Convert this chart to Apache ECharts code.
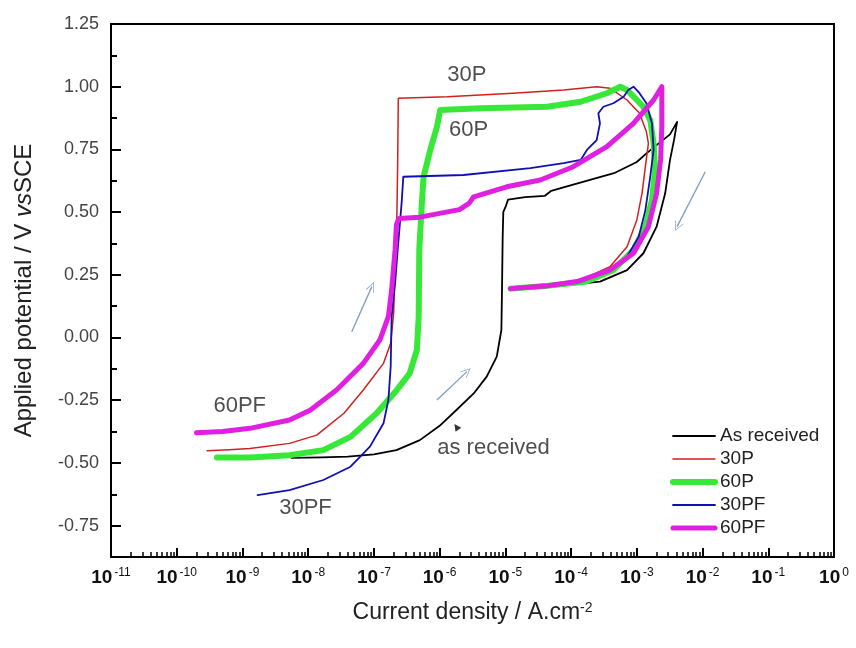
<!DOCTYPE html>
<html>
<head>
<meta charset="utf-8">
<script src="https://cdn.jsdelivr.net/npm/echarts@6/dist/echarts.min.js"></script>
<style>
  html, body { margin: 0; padding: 0; background: #ffffff; }
  #chart { width: 856px; height: 648px; }
</style>
</head>
<body>
<div id="chart"></div>
<script>
// Polarisation curves: [current density (A/cm2), applied potential (V vs SCE)]
const asReceived = [
  [5.6e-9, -0.480], [1.6e-8, -0.478], [4.0e-8, -0.475], [1.0e-7, -0.466], [2.2e-7, -0.449],
  [5.0e-7, -0.409], [1.0e-6, -0.352], [1.8e-6, -0.289], [3.3e-6, -0.223], [5.2e-6, -0.156],
  [7.4e-6, -0.076], [8.7e-6, 0.030], [8.9e-6, 0.200], [9.1e-6, 0.400], [9.3e-6, 0.500],
  [1.02e-5, 0.525], [1.1e-5, 0.550], [2.0e-5, 0.560], [4.0e-5, 0.565], [5.0e-5, 0.585],
  [7.9e-5, 0.600], [2.0e-4, 0.630], [4.5e-4, 0.655], [1.0e-3, 0.700], [1.4e-3, 0.734],
  [2.3e-3, 0.780], [3.2e-3, 0.810], [4.1e-3, 0.860],
  [3.7e-3, 0.790], [3.2e-3, 0.708], [2.7e-3, 0.575], [2.0e-3, 0.442], [1.26e-3, 0.336],
  [7.1e-4, 0.269], [2.75e-4, 0.223], [6.3e-5, 0.205], [2.5e-5, 0.200], [1.2e-5, 0.195]
];
const p30 = [
  [2.9e-10, -0.451], [6.3e-10, -0.447], [1.3e-9, -0.442], [5.2e-9, -0.422], [1.35e-8, -0.389],
  [3.5e-8, -0.302], [6.9e-8, -0.209], [1.4e-7, -0.103], [1.8e-7, -0.023], [2.0e-7, 0.100],
  [2.1e-7, 0.300], [2.24e-7, 0.500], [2.3e-7, 0.700], [2.35e-7, 0.954], [1.3e-6, 0.960],
  [1.3e-5, 0.974], [7.7e-5, 0.987], [2.45e-4, 1.000], [3.9e-4, 0.994], [7.1e-4, 0.947],
  [1.1e-3, 0.894], [1.4e-3, 0.820], [1.5e-3, 0.774],
  [1.35e-3, 0.681], [1.2e-3, 0.575], [1.0e-3, 0.469], [7.1e-4, 0.362], [3.9e-4, 0.282],
  [1.4e-4, 0.229], [4.0e-5, 0.210], [1.2e-5, 0.198]
];
const p60 = [
  [4.1e-10, -0.478], [1.3e-9, -0.478], [5.2e-9, -0.469], [1.7e-8, -0.449], [4.4e-8, -0.396],
  [1.1e-7, -0.302], [2.24e-7, -0.209], [3.5e-7, -0.143], [4.5e-7, -0.050], [4.8e-7, 0.083],
  [4.9e-7, 0.349], [5.4e-7, 0.548], [5.7e-7, 0.641], [7.2e-7, 0.748], [9.1e-7, 0.840],
  [1.02e-6, 0.907], [4.2e-6, 0.914], [4.3e-5, 0.920], [1.4e-4, 0.940], [3.5e-4, 0.974],
  [5.6e-4, 1.000], [7.1e-4, 0.987], [1.26e-3, 0.920], [1.6e-3, 0.867], [1.8e-3, 0.774],
  [1.9e-3, 0.668], [1.7e-3, 0.548], [1.35e-3, 0.442], [8.9e-4, 0.349], [4.4e-4, 0.269],
  [1.7e-4, 0.223], [4.0e-5, 0.205], [1.2e-5, 0.195]
];
const pf30 = [
  [1.7e-9, -0.628], [5.2e-9, -0.608], [1.7e-8, -0.568], [4.4e-8, -0.515], [8.7e-8, -0.435],
  [1.4e-7, -0.342], [1.66e-7, -0.249], [1.8e-7, -0.116], [1.86e-7, 0.083], [2.1e-7, 0.216],
  [2.3e-7, 0.349], [2.66e-7, 0.548], [2.8e-7, 0.641], [2.3e-6, 0.648], [2.4e-5, 0.675],
  [7.7e-5, 0.695], [1.4e-4, 0.708], [1.74e-4, 0.748], [2.45e-4, 0.787], [2.75e-4, 0.854],
  [2.6e-4, 0.894], [3.1e-4, 0.920], [4.4e-4, 0.934], [6.3e-4, 0.960], [7.4e-4, 0.987],
  [8.9e-4, 1.000], [1.1e-3, 0.974], [1.4e-3, 0.934], [1.7e-3, 0.854], [1.8e-3, 0.748],
  [1.6e-3, 0.641], [1.35e-3, 0.508], [1.07e-3, 0.402], [7.1e-4, 0.322], [3.5e-4, 0.262],
  [1.4e-4, 0.223], [4.0e-5, 0.205], [1.2e-5, 0.197]
];
const pf60 = [
  [2.0e-10, -0.380], [5.0e-10, -0.375], [1.3e-9, -0.362], [5.2e-9, -0.329], [1.07e-8, -0.290],
  [2.7e-8, -0.209], [6.9e-8, -0.103], [1.23e-7, -0.010], [1.66e-7, 0.083], [1.86e-7, 0.190],
  [2.1e-7, 0.350], [2.2e-7, 0.450], [2.4e-7, 0.475], [5.0e-7, 0.480], [1.0e-6, 0.495],
  [2.0e-6, 0.510], [2.8e-6, 0.535], [3.3e-6, 0.561], [1.05e-5, 0.601], [3.4e-5, 0.628],
  [1.08e-4, 0.681], [3.5e-4, 0.761], [8.9e-4, 0.854], [1.8e-3, 0.947], [2.4e-3, 1.000],
  [2.4e-3, 0.840], [2.3e-3, 0.708], [2.0e-3, 0.575], [1.5e-3, 0.442], [8.9e-4, 0.336],
  [3.9e-4, 0.269], [1.23e-4, 0.223], [4.0e-5, 0.205], [1.2e-5, 0.195]
];

// Axis ticks
const decadeTicks = [1e-11, 1e-10, 1e-9, 1e-8, 1e-7, 1e-6, 1e-5, 1e-4, 1e-3, 1e-2, 1e-1, 1e0];
const potentialTicks = [-0.75, -0.50, -0.25, 0.00, 0.25, 0.50, 0.75, 1.00, 1.25];
const potentialMinorTicks = [-0.875, -0.625, -0.375, -0.125, 0.125, 0.375, 0.625, 0.875, 1.125];

// In-plot annotations
const curveLabels = [
  { name: '30P', value: [2.6e-6, 1.047] },
  { name: '60P', value: [2.75e-6, 0.827] },
  { name: '60PF', value: [9.1e-10, -0.273] },
  { name: '30PF', value: [9.1e-9, -0.680] },
  { name: 'as received', value: [6.6e-6, -0.442] }
];
// Scan-direction arrows: [tail, head]
const scanArrows = [
  [[4.6e-8, 0.023], [9.3e-8, 0.203]],
  [[9.1e-7, -0.249], [2.6e-6, -0.136]],
  [[1.1e-2, 0.661], [4.1e-3, 0.442]]
];
const pointerMark = [[1.8e-6, -0.356]];

const minorX = [];
decadeTicks.slice(0, -1).forEach(function (d) {
  for (let k = 2; k <= 9; k++) minorX.push(d * k);
});

const FONT = '"Liberation Sans", Arial, sans-serif';
const chevron = 'path://M0,12 L6,0 L12,12 L11,12 L6,2 L1,12 Z';

const curveStyles = {
  'As received': { color: '#000000', width: 1.8 },
  '30P': { color: '#d02020', width: 1.5 },
  '60P': { color: '#38e838', width: 6 },
  '30PF': { color: '#1010b0', width: 1.8 },
  '60PF': { color: '#e020e0', width: 5 }
};

const chart = echarts.init(document.getElementById('chart'), null, { renderer: 'canvas' });

function curve(name, data) {
  const st = curveStyles[name];
  return {
    name: name, type: 'line', data: data, xAxisIndex: 0, yAxisIndex: 0,
    symbol: 'none', showSymbol: false, smooth: false, animation: false,
    lineStyle: { color: st.color, width: st.width, join: 'round', cap: 'round' },
    itemStyle: { color: st.color }
  };
}

chart.setOption({
  backgroundColor: '#ffffff',
  animation: false,
  grid: {
    left: 111, right: 22, top: 24, bottom: 91,
    show: true, borderColor: '#000', borderWidth: 2, backgroundColor: 'transparent'
  },
  legend: {
    data: Object.keys(curveStyles).map(function (n) {
      return { name: n, lineStyle: { width: curveStyles[n].width, color: curveStyles[n].color } };
    }),
    orient: 'vertical', left: 670, top: 426, padding: 0,
    itemWidth: 42, itemHeight: 14, itemGap: 3,
    itemStyle: { opacity: 0 },
    textStyle: { fontFamily: FONT, fontSize: 19, color: '#222', lineHeight: 20 },
    selectedMode: false
  },
  xAxis: [
    {
      type: 'log', logBase: 10, min: 1e-11, max: 1, position: 'bottom',
      name: 'Current density / A.cm{s|-2}', nameLocation: 'middle', nameGap: 44,
      nameTextStyle: {
        fontFamily: FONT, fontSize: 23, color: '#222',
        rich: { s: { fontFamily: FONT, fontSize: 14, color: '#222', verticalAlign: 'top', lineHeight: 14 } }
      },
      axisLine: { show: true, onZero: false, lineStyle: { color: '#000', width: 2 } },
      axisTick: { show: true, inside: true, length: 9, lineStyle: { color: '#000', width: 2 }, customValues: decadeTicks },
      minorTick: { show: false },
      splitLine: { show: false },
      axisLabel: {
        customValues: decadeTicks, margin: 10,
        formatter: function (v) {
          const e = Math.round(Math.log10(v));
          return '{b|10}{s|' + e + '}';
        },
        rich: {
          b: { fontFamily: FONT, fontSize: 19, fontWeight: 'bold', color: '#111', lineHeight: 22 },
          s: { fontFamily: FONT, fontSize: 12, color: '#111', verticalAlign: 'top', lineHeight: 12, padding: [0, 0, 0, 2] }
        }
      }
    },
    {
      type: 'log', logBase: 10, min: 1e-11, max: 1, position: 'bottom',
      axisLine: { show: false, onZero: false }, axisLabel: { show: false }, splitLine: { show: false },
      axisTick: { show: true, inside: true, length: 5, lineStyle: { color: '#000', width: 1.5 }, customValues: minorX }
    }
  ],
  yAxis: [
    {
      type: 'value', min: -0.875, max: 1.25, position: 'left',
      name: 'Applied potential / V {i|vs}SCE', nameLocation: 'middle', nameGap: 75,
      nameTextStyle: {
        fontFamily: FONT, fontSize: 24, color: '#222',
        rich: { i: { fontFamily: FONT, fontSize: 24, fontStyle: 'italic', color: '#222' } }
      },
      axisLine: { show: true, onZero: false, lineStyle: { color: '#000', width: 2 } },
      axisTick: { show: true, inside: true, length: 10, lineStyle: { color: '#000', width: 2 }, customValues: potentialTicks },
      splitLine: { show: false },
      axisLabel: {
        customValues: potentialTicks, margin: 12,
        fontFamily: FONT, fontSize: 18, color: '#444',
        formatter: function (v) { return v.toFixed(2); }
      }
    },
    {
      type: 'value', min: -0.875, max: 1.25, position: 'left',
      axisLine: { show: false, onZero: false }, axisLabel: { show: false }, splitLine: { show: false },
      axisTick: { show: true, inside: true, length: 6, lineStyle: { color: '#000', width: 2 }, customValues: potentialMinorTicks }
    }
  ],
  series: [
    curve('As received', asReceived),
    curve('30P', p30),
    curve('60P', p60),
    curve('30PF', pf30),
    curve('60PF', pf60),
    {
      name: 'labels', type: 'scatter', data: curveLabels, symbolSize: 0,
      xAxisIndex: 0, yAxisIndex: 0, silent: true,
      label: {
        show: true, position: 'inside', formatter: '{b}',
        fontFamily: FONT, fontSize: 22, color: '#222'
      },
      markLine: {
        silent: true, symbol: ['none', chevron], symbolSize: [9, 10],
        label: { show: false },
        lineStyle: { type: 'solid', color: '#7d9cc6', width: 1.3 },
        emphasis: { disabled: true },
        data: scanArrows.map(function (a) {
          return [{ coord: a[0] }, { coord: a[1] }];
        })
      }
    },
    {
      name: 'pointer', type: 'scatter', data: pointerMark, symbol: 'triangle',
      symbolSize: 7, symbolRotate: 35, xAxisIndex: 0, yAxisIndex: 0, silent: true,
      itemStyle: { color: '#000' }
    }
  ]
});
</script>
</body>
</html>
